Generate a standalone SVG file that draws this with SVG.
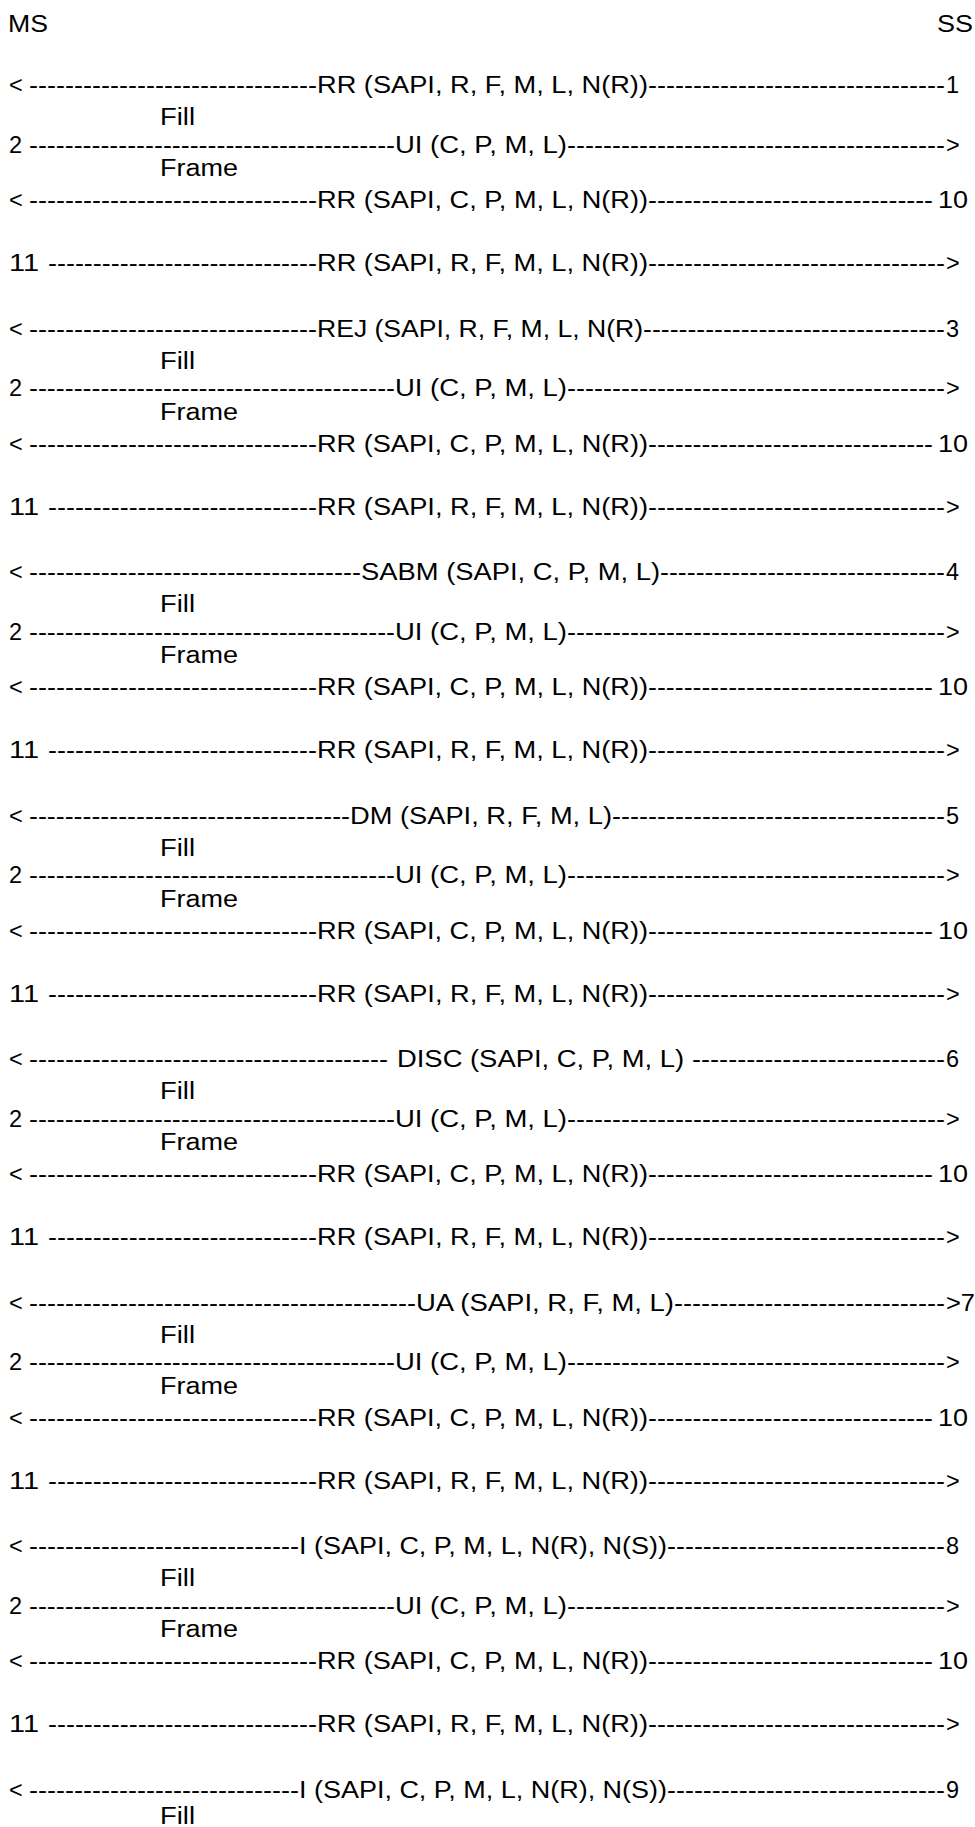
<svg xmlns="http://www.w3.org/2000/svg" width="975" height="1827" viewBox="0 0 975 1827">
<style>
text{font-family:"Liberation Sans",Arial,sans-serif;font-size:23.5px;fill:#000}
</style>
<rect width="975" height="1827" fill="#fff"/>
<g id="header">
<text x="8" y="32" textLength="40" lengthAdjust="spacingAndGlyphs">MS</text>
<text x="937" y="32" textLength="36" lengthAdjust="spacingAndGlyphs">SS</text>
</g>
<g id="connectors">
<!-- block 0 -->
<text x="29" y="93" textLength="288" lengthAdjust="spacingAndGlyphs">--------------------------------</text>
<text x="648" y="93" textLength="297" lengthAdjust="spacingAndGlyphs">---------------------------------</text>
<text x="29" y="152.5" textLength="366" lengthAdjust="spacingAndGlyphs">-----------------------------------------</text>
<text x="567" y="152.5" textLength="378" lengthAdjust="spacingAndGlyphs">------------------------------------------</text>
<text x="29" y="208" textLength="288" lengthAdjust="spacingAndGlyphs">--------------------------------</text>
<text x="648" y="208" textLength="285" lengthAdjust="spacingAndGlyphs">--------------------------------</text>
<text x="48" y="271" textLength="269" lengthAdjust="spacingAndGlyphs">------------------------------</text>
<text x="648" y="271" textLength="297" lengthAdjust="spacingAndGlyphs">---------------------------------</text>
<!-- block 1 -->
<text x="29" y="336.5" textLength="288" lengthAdjust="spacingAndGlyphs">--------------------------------</text>
<text x="643" y="336.5" textLength="302" lengthAdjust="spacingAndGlyphs">----------------------------------</text>
<text x="29" y="396" textLength="366" lengthAdjust="spacingAndGlyphs">-----------------------------------------</text>
<text x="567" y="396" textLength="378" lengthAdjust="spacingAndGlyphs">------------------------------------------</text>
<text x="29" y="451.5" textLength="288" lengthAdjust="spacingAndGlyphs">--------------------------------</text>
<text x="648" y="451.5" textLength="285" lengthAdjust="spacingAndGlyphs">--------------------------------</text>
<text x="48" y="514.5" textLength="269" lengthAdjust="spacingAndGlyphs">------------------------------</text>
<text x="648" y="514.5" textLength="297" lengthAdjust="spacingAndGlyphs">---------------------------------</text>
<!-- block 2 -->
<text x="29" y="580" textLength="332" lengthAdjust="spacingAndGlyphs">-------------------------------------</text>
<text x="660" y="580" textLength="285" lengthAdjust="spacingAndGlyphs">--------------------------------</text>
<text x="29" y="639.5" textLength="366" lengthAdjust="spacingAndGlyphs">-----------------------------------------</text>
<text x="567" y="639.5" textLength="378" lengthAdjust="spacingAndGlyphs">------------------------------------------</text>
<text x="29" y="695" textLength="288" lengthAdjust="spacingAndGlyphs">--------------------------------</text>
<text x="648" y="695" textLength="285" lengthAdjust="spacingAndGlyphs">--------------------------------</text>
<text x="48" y="758" textLength="269" lengthAdjust="spacingAndGlyphs">------------------------------</text>
<text x="648" y="758" textLength="297" lengthAdjust="spacingAndGlyphs">---------------------------------</text>
<!-- block 3 -->
<text x="29" y="823.5" textLength="321" lengthAdjust="spacingAndGlyphs">------------------------------------</text>
<text x="612" y="823.5" textLength="333" lengthAdjust="spacingAndGlyphs">-------------------------------------</text>
<text x="29" y="883" textLength="366" lengthAdjust="spacingAndGlyphs">-----------------------------------------</text>
<text x="567" y="883" textLength="378" lengthAdjust="spacingAndGlyphs">------------------------------------------</text>
<text x="29" y="938.5" textLength="288" lengthAdjust="spacingAndGlyphs">--------------------------------</text>
<text x="648" y="938.5" textLength="285" lengthAdjust="spacingAndGlyphs">--------------------------------</text>
<text x="48" y="1001.5" textLength="269" lengthAdjust="spacingAndGlyphs">------------------------------</text>
<text x="648" y="1001.5" textLength="297" lengthAdjust="spacingAndGlyphs">---------------------------------</text>
<!-- block 4 -->
<text x="29" y="1067" textLength="359" lengthAdjust="spacingAndGlyphs">----------------------------------------</text>
<text x="692" y="1067" textLength="253" lengthAdjust="spacingAndGlyphs">----------------------------</text>
<text x="29" y="1126.5" textLength="366" lengthAdjust="spacingAndGlyphs">-----------------------------------------</text>
<text x="567" y="1126.5" textLength="378" lengthAdjust="spacingAndGlyphs">------------------------------------------</text>
<text x="29" y="1182" textLength="288" lengthAdjust="spacingAndGlyphs">--------------------------------</text>
<text x="648" y="1182" textLength="285" lengthAdjust="spacingAndGlyphs">--------------------------------</text>
<text x="48" y="1245" textLength="269" lengthAdjust="spacingAndGlyphs">------------------------------</text>
<text x="648" y="1245" textLength="297" lengthAdjust="spacingAndGlyphs">---------------------------------</text>
<!-- block 5 -->
<text x="29" y="1310.5" textLength="387" lengthAdjust="spacingAndGlyphs">-------------------------------------------</text>
<text x="674" y="1310.5" textLength="271" lengthAdjust="spacingAndGlyphs">------------------------------</text>
<text x="29" y="1370" textLength="366" lengthAdjust="spacingAndGlyphs">-----------------------------------------</text>
<text x="567" y="1370" textLength="378" lengthAdjust="spacingAndGlyphs">------------------------------------------</text>
<text x="29" y="1425.5" textLength="288" lengthAdjust="spacingAndGlyphs">--------------------------------</text>
<text x="648" y="1425.5" textLength="285" lengthAdjust="spacingAndGlyphs">--------------------------------</text>
<text x="48" y="1488.5" textLength="269" lengthAdjust="spacingAndGlyphs">------------------------------</text>
<text x="648" y="1488.5" textLength="297" lengthAdjust="spacingAndGlyphs">---------------------------------</text>
<!-- block 6 -->
<text x="29" y="1554" textLength="270" lengthAdjust="spacingAndGlyphs">------------------------------</text>
<text x="667" y="1554" textLength="278" lengthAdjust="spacingAndGlyphs">-------------------------------</text>
<text x="29" y="1613.5" textLength="366" lengthAdjust="spacingAndGlyphs">-----------------------------------------</text>
<text x="567" y="1613.5" textLength="378" lengthAdjust="spacingAndGlyphs">------------------------------------------</text>
<text x="29" y="1669" textLength="288" lengthAdjust="spacingAndGlyphs">--------------------------------</text>
<text x="648" y="1669" textLength="285" lengthAdjust="spacingAndGlyphs">--------------------------------</text>
<text x="48" y="1732" textLength="269" lengthAdjust="spacingAndGlyphs">------------------------------</text>
<text x="648" y="1732" textLength="297" lengthAdjust="spacingAndGlyphs">---------------------------------</text>
<!-- block 7 -->
<text x="29" y="1797.5" textLength="270" lengthAdjust="spacingAndGlyphs">------------------------------</text>
<text x="667" y="1797.5" textLength="278" lengthAdjust="spacingAndGlyphs">-------------------------------</text>
</g>
<g id="block0">
<text x="9" y="93">&lt;</text>
<text x="317" y="93" textLength="331" lengthAdjust="spacingAndGlyphs">RR (SAPI, R, F, M, L, N(R))</text>
<text x="946" y="93">1</text>
<text x="160" y="125" textLength="35" lengthAdjust="spacingAndGlyphs">Fill</text>
<text x="9" y="152.5">2</text>
<text x="395" y="152.5" textLength="172" lengthAdjust="spacingAndGlyphs">UI (C, P, M, L)</text>
<text x="946" y="152.5">&gt;</text>
<text x="160" y="176" textLength="78" lengthAdjust="spacingAndGlyphs">Frame</text>
<text x="9" y="208">&lt;</text>
<text x="317" y="208" textLength="331" lengthAdjust="spacingAndGlyphs">RR (SAPI, C, P, M, L, N(R))</text>
<text x="938" y="208" textLength="30" lengthAdjust="spacingAndGlyphs">10</text>
<text x="9" y="271" textLength="30" lengthAdjust="spacingAndGlyphs">11</text>
<text x="317" y="271" textLength="331" lengthAdjust="spacingAndGlyphs">RR (SAPI, R, F, M, L, N(R))</text>
<text x="946" y="271">&gt;</text>
</g>
<g id="block1">
<text x="9" y="336.5">&lt;</text>
<text x="317" y="336.5" textLength="326" lengthAdjust="spacingAndGlyphs">REJ (SAPI, R, F, M, L, N(R)</text>
<text x="946" y="336.5">3</text>
<text x="160" y="368.5" textLength="35" lengthAdjust="spacingAndGlyphs">Fill</text>
<text x="9" y="396">2</text>
<text x="395" y="396" textLength="172" lengthAdjust="spacingAndGlyphs">UI (C, P, M, L)</text>
<text x="946" y="396">&gt;</text>
<text x="160" y="419.5" textLength="78" lengthAdjust="spacingAndGlyphs">Frame</text>
<text x="9" y="451.5">&lt;</text>
<text x="317" y="451.5" textLength="331" lengthAdjust="spacingAndGlyphs">RR (SAPI, C, P, M, L, N(R))</text>
<text x="938" y="451.5" textLength="30" lengthAdjust="spacingAndGlyphs">10</text>
<text x="9" y="514.5" textLength="30" lengthAdjust="spacingAndGlyphs">11</text>
<text x="317" y="514.5" textLength="331" lengthAdjust="spacingAndGlyphs">RR (SAPI, R, F, M, L, N(R))</text>
<text x="946" y="514.5">&gt;</text>
</g>
<g id="block2">
<text x="9" y="580">&lt;</text>
<text x="361" y="580" textLength="299" lengthAdjust="spacingAndGlyphs">SABM (SAPI, C, P, M, L)</text>
<text x="946" y="580">4</text>
<text x="160" y="612" textLength="35" lengthAdjust="spacingAndGlyphs">Fill</text>
<text x="9" y="639.5">2</text>
<text x="395" y="639.5" textLength="172" lengthAdjust="spacingAndGlyphs">UI (C, P, M, L)</text>
<text x="946" y="639.5">&gt;</text>
<text x="160" y="663" textLength="78" lengthAdjust="spacingAndGlyphs">Frame</text>
<text x="9" y="695">&lt;</text>
<text x="317" y="695" textLength="331" lengthAdjust="spacingAndGlyphs">RR (SAPI, C, P, M, L, N(R))</text>
<text x="938" y="695" textLength="30" lengthAdjust="spacingAndGlyphs">10</text>
<text x="9" y="758" textLength="30" lengthAdjust="spacingAndGlyphs">11</text>
<text x="317" y="758" textLength="331" lengthAdjust="spacingAndGlyphs">RR (SAPI, R, F, M, L, N(R))</text>
<text x="946" y="758">&gt;</text>
</g>
<g id="block3">
<text x="9" y="823.5">&lt;</text>
<text x="350" y="823.5" textLength="262" lengthAdjust="spacingAndGlyphs">DM (SAPI, R, F, M, L)</text>
<text x="946" y="823.5">5</text>
<text x="160" y="855.5" textLength="35" lengthAdjust="spacingAndGlyphs">Fill</text>
<text x="9" y="883">2</text>
<text x="395" y="883" textLength="172" lengthAdjust="spacingAndGlyphs">UI (C, P, M, L)</text>
<text x="946" y="883">&gt;</text>
<text x="160" y="906.5" textLength="78" lengthAdjust="spacingAndGlyphs">Frame</text>
<text x="9" y="938.5">&lt;</text>
<text x="317" y="938.5" textLength="331" lengthAdjust="spacingAndGlyphs">RR (SAPI, C, P, M, L, N(R))</text>
<text x="938" y="938.5" textLength="30" lengthAdjust="spacingAndGlyphs">10</text>
<text x="9" y="1001.5" textLength="30" lengthAdjust="spacingAndGlyphs">11</text>
<text x="317" y="1001.5" textLength="331" lengthAdjust="spacingAndGlyphs">RR (SAPI, R, F, M, L, N(R))</text>
<text x="946" y="1001.5">&gt;</text>
</g>
<g id="block4">
<text x="9" y="1067">&lt;</text>
<text x="397" y="1067" textLength="287" lengthAdjust="spacingAndGlyphs">DISC (SAPI, C, P, M, L)</text>
<text x="946" y="1067">6</text>
<text x="160" y="1099" textLength="35" lengthAdjust="spacingAndGlyphs">Fill</text>
<text x="9" y="1126.5">2</text>
<text x="395" y="1126.5" textLength="172" lengthAdjust="spacingAndGlyphs">UI (C, P, M, L)</text>
<text x="946" y="1126.5">&gt;</text>
<text x="160" y="1150" textLength="78" lengthAdjust="spacingAndGlyphs">Frame</text>
<text x="9" y="1182">&lt;</text>
<text x="317" y="1182" textLength="331" lengthAdjust="spacingAndGlyphs">RR (SAPI, C, P, M, L, N(R))</text>
<text x="938" y="1182" textLength="30" lengthAdjust="spacingAndGlyphs">10</text>
<text x="9" y="1245" textLength="30" lengthAdjust="spacingAndGlyphs">11</text>
<text x="317" y="1245" textLength="331" lengthAdjust="spacingAndGlyphs">RR (SAPI, R, F, M, L, N(R))</text>
<text x="946" y="1245">&gt;</text>
</g>
<g id="block5">
<text x="9" y="1310.5">&lt;</text>
<text x="416" y="1310.5" textLength="258" lengthAdjust="spacingAndGlyphs">UA (SAPI, R, F, M, L)</text>
<text x="946" y="1310.5" textLength="29" lengthAdjust="spacingAndGlyphs">&gt;7</text>
<text x="160" y="1342.5" textLength="35" lengthAdjust="spacingAndGlyphs">Fill</text>
<text x="9" y="1370">2</text>
<text x="395" y="1370" textLength="172" lengthAdjust="spacingAndGlyphs">UI (C, P, M, L)</text>
<text x="946" y="1370">&gt;</text>
<text x="160" y="1393.5" textLength="78" lengthAdjust="spacingAndGlyphs">Frame</text>
<text x="9" y="1425.5">&lt;</text>
<text x="317" y="1425.5" textLength="331" lengthAdjust="spacingAndGlyphs">RR (SAPI, C, P, M, L, N(R))</text>
<text x="938" y="1425.5" textLength="30" lengthAdjust="spacingAndGlyphs">10</text>
<text x="9" y="1488.5" textLength="30" lengthAdjust="spacingAndGlyphs">11</text>
<text x="317" y="1488.5" textLength="331" lengthAdjust="spacingAndGlyphs">RR (SAPI, R, F, M, L, N(R))</text>
<text x="946" y="1488.5">&gt;</text>
</g>
<g id="block6">
<text x="9" y="1554">&lt;</text>
<text x="299" y="1554" textLength="368" lengthAdjust="spacingAndGlyphs">I (SAPI, C, P, M, L, N(R), N(S))</text>
<text x="946" y="1554">8</text>
<text x="160" y="1586" textLength="35" lengthAdjust="spacingAndGlyphs">Fill</text>
<text x="9" y="1613.5">2</text>
<text x="395" y="1613.5" textLength="172" lengthAdjust="spacingAndGlyphs">UI (C, P, M, L)</text>
<text x="946" y="1613.5">&gt;</text>
<text x="160" y="1637" textLength="78" lengthAdjust="spacingAndGlyphs">Frame</text>
<text x="9" y="1669">&lt;</text>
<text x="317" y="1669" textLength="331" lengthAdjust="spacingAndGlyphs">RR (SAPI, C, P, M, L, N(R))</text>
<text x="938" y="1669" textLength="30" lengthAdjust="spacingAndGlyphs">10</text>
<text x="9" y="1732" textLength="30" lengthAdjust="spacingAndGlyphs">11</text>
<text x="317" y="1732" textLength="331" lengthAdjust="spacingAndGlyphs">RR (SAPI, R, F, M, L, N(R))</text>
<text x="946" y="1732">&gt;</text>
</g>
<g id="block7">
<text x="9" y="1797.5">&lt;</text>
<text x="299" y="1797.5" textLength="368" lengthAdjust="spacingAndGlyphs">I (SAPI, C, P, M, L, N(R), N(S))</text>
<text x="946" y="1797.5">9</text>
<text x="160" y="1824" textLength="35" lengthAdjust="spacingAndGlyphs">Fill</text>
</g>
</svg>
